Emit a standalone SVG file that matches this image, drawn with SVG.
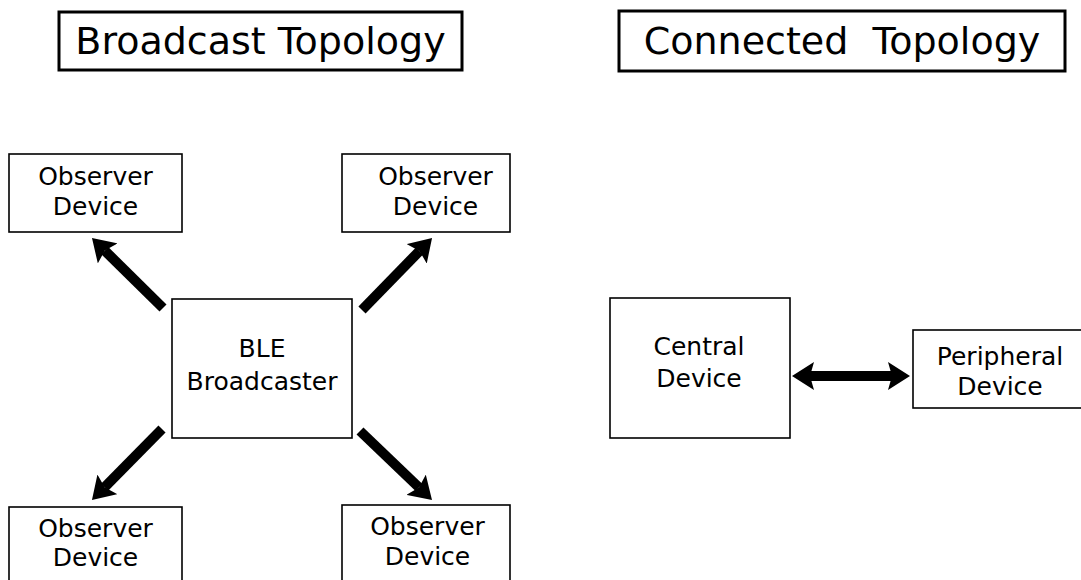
<svg xmlns="http://www.w3.org/2000/svg" width="1081" height="580" viewBox="0 0 1081 580">
  <style>
    .title { fill: #fff; stroke: #000; stroke-width: 3; }
    .box { fill: #fff; stroke: #000; stroke-width: 1.6; }
    .ttext { font-family: "DejaVu Sans", sans-serif; font-size: 38px; fill: #000; text-anchor: middle; white-space: pre; }
    .ntext { font-family: "DejaVu Sans", sans-serif; font-size: 25px; fill: #000; text-anchor: middle; }
    .link { stroke: #000; stroke-width: 10; fill: none; marker-end: url(#head); }
    .both { marker-start: url(#head); }
  </style>
  <defs>
    <!-- notched arrowhead; refX sits at the notch so the shaft ends under the head -->
    <marker id="head" viewBox="0 0 22 28" markerWidth="22" markerHeight="28" markerUnits="userSpaceOnUse" refX="4" refY="14" orient="auto-start-reverse">
      <path d="M0,0 L22,14 L0,28 L4,14 Z" fill="#000"/>
    </marker>
  </defs>

  <g id="title-broadcast">
    <rect class="title" x="59" y="12" width="403" height="58"/>
    <text class="ttext" x="260.5" y="54">Broadcast Topology</text>
  </g>
  <g id="title-connected">
    <rect class="title" x="619" y="11" width="446" height="60"/>
    <text class="ttext" x="842" y="54">Connected  Topology</text>
  </g>

  <g id="observer-tl">
    <rect class="box" x="9" y="154" width="173" height="78"/>
    <text class="ntext" x="95.5" y="185">Observer</text>
    <text class="ntext" x="95.5" y="215">Device</text>
  </g>
  <g id="observer-tr">
    <rect class="box" x="342" y="154" width="168" height="78"/>
    <text class="ntext" x="435.5" y="185">Observer</text>
    <text class="ntext" x="435.5" y="215">Device</text>
  </g>
  <g id="broadcaster">
    <rect class="box" x="172" y="299" width="180" height="139"/>
    <text class="ntext" x="262" y="357">BLE</text>
    <text class="ntext" x="262" y="390">Broadcaster</text>
  </g>
  <g id="observer-bl">
    <rect class="box" x="9" y="507" width="173" height="80"/>
    <text class="ntext" x="95.5" y="537">Observer</text>
    <text class="ntext" x="95.5" y="566">Device</text>
  </g>
  <g id="observer-br">
    <rect class="box" x="342" y="505" width="168" height="82"/>
    <text class="ntext" x="427.5" y="535">Observer</text>
    <text class="ntext" x="427.5" y="565">Device</text>
  </g>

  <g id="central">
    <rect class="box" x="610" y="298" width="180" height="140"/>
    <text class="ntext" x="699" y="355">Central</text>
    <text class="ntext" x="699" y="387">Device</text>
  </g>
  <g id="peripheral">
    <rect class="box" x="913" y="330" width="172" height="78"/>
    <text class="ntext" x="1000" y="365">Peripheral</text>
    <text class="ntext" x="1000" y="395">Device</text>
  </g>

  <g id="connectors">
    <line class="link" x1="163" y1="308" x2="104.8" y2="250.6"/>
    <line class="link" x1="362" y1="310" x2="419.5" y2="250.9"/>
    <line class="link" x1="162" y1="429" x2="104.6" y2="487.2"/>
    <line class="link" x1="360" y1="431" x2="419" y2="487.5"/>
    <line class="link both" x1="810" y1="376" x2="892" y2="376"/>
  </g>
</svg>
